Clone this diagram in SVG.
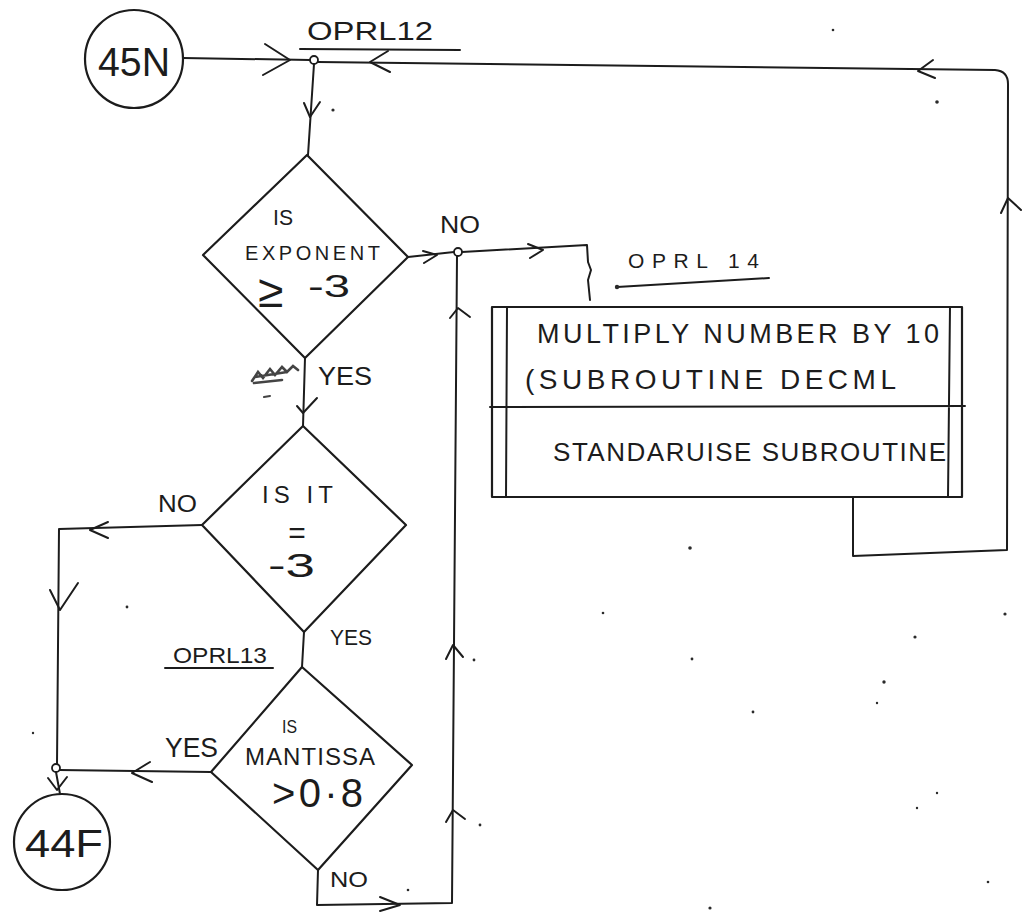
<svg xmlns="http://www.w3.org/2000/svg" width="1026" height="922" viewBox="0 0 1026 922">
<style>
.ln{fill:none;stroke:#1c1c1c;stroke-width:2;stroke-linecap:round;stroke-linejoin:round}
.sh{fill:none;stroke:#1c1c1c;stroke-width:2.2;stroke-linejoin:round}
.jn{fill:#fff;stroke:#1c1c1c;stroke-width:1.8}
.t{font-family:"Liberation Sans","DejaVu Sans",sans-serif;fill:#1c1c1c;font-weight:normal}
.dot{fill:#2a2a2a}
</style>
<rect width="1026" height="922" fill="#fff"/>

<g id="connectors">
  <!-- 45N to junction -->
  <path class="ln" d="M183,58 L310,60"/>
  <path class="ln" d="M265,44 L290,60 L263,75"/>
  <!-- return loop from box to junction -->
  <path class="ln" d="M853,497 L853,556 L1007,550 L1008,84 Q1008,71 995,70 L318,62"/>
  <path class="ln" d="M388,51 L370,62 L390,72"/>
  <path class="ln" d="M933,60 L918,71 L935,78"/>
  <path class="ln" d="M1001,213 L1008,198 L1021,210"/>
  <!-- junction to diamond 1 -->
  <path class="ln" d="M314,64 L308,155"/>
  <path class="ln" d="M304,103 L310,117 L320,102"/>
  <!-- diamond 1 NO to box -->
  <path class="ln" d="M408,257 L454,252"/>
  <path class="ln" d="M423,251 L437,255 L424,263"/>
  <path class="ln" d="M462,252 L587,245 L588,262 L591,270 L588,280 L590,300"/>
  <path class="ln" d="M528,244 L543,250 L530,258"/>
  <!-- diamond 1 YES to diamond 2 -->
  <path class="ln" d="M305,358 L303,426"/>
  <path class="ln" d="M297,406 L303,413 L317,398"/>
  <!-- diamond 2 NO to left -->
  <path class="ln" d="M202,525 L59,529 L57,764"/>
  <path class="ln" d="M108,522 L90,530 L108,538"/>
  <path class="ln" d="M50,590 L60,610 L78,583"/>
  <!-- diamond 2 YES to diamond 3 -->
  <path class="ln" d="M304,632 L302,667"/>
  <!-- diamond 3 YES to junction -->
  <path class="ln" d="M211,772 L59,770"/>
  <path class="ln" d="M150,762 L132,773 L152,782"/>
  <!-- junction to 44F -->
  <path class="ln" d="M56,772 L60,794"/>
  <path class="ln" d="M48,778 L57,790 L67,777"/>
  <!-- diamond 3 NO back up -->
  <path class="ln" d="M318,870 L317,905 L452,903 L457,256"/>
  <path class="ln" d="M380,897 L400,905 L380,911"/>
  <path class="ln" d="M446,659 L453,645 L463,657"/>
  <path class="ln" d="M446,822 L453,810 L465,819"/>
  <path class="ln" d="M450,318 L458,308 L470,317"/>
  <!-- junction points -->
  <circle class="jn" cx="314" cy="60" r="4"/>
  <circle class="jn" cx="458" cy="252" r="4"/>
  <circle class="jn" cx="56" cy="768" r="4"/>
  <!-- connector labels -->
  <text class="t" x="440" y="233" font-size="24" textLength="40" lengthAdjust="spacingAndGlyphs">NO</text>
  <text class="t" x="318" y="385" font-size="25" textLength="54" lengthAdjust="spacingAndGlyphs">YES</text>
  <text class="t" x="158" y="512" font-size="24" textLength="39" lengthAdjust="spacingAndGlyphs">NO</text>
  <text class="t" x="330" y="645" font-size="22" textLength="42" lengthAdjust="spacingAndGlyphs">YES</text>
  <text class="t" x="165" y="757" font-size="28" textLength="53" lengthAdjust="spacingAndGlyphs">YES</text>
  <text class="t" x="330" y="887" font-size="22" textLength="38" lengthAdjust="spacingAndGlyphs">NO</text>
</g>

<g id="label-oprl12">
  <text class="t" x="307" y="40" font-size="26" textLength="126" lengthAdjust="spacingAndGlyphs">OPRL12</text>
  <path class="ln" d="M300,49 L460,50"/>
</g>
<g id="label-oprl14">
  <text class="t" x="628" y="268" font-size="21" textLength="131" lengthAdjust="spacing">OPRL 14</text>
  <path class="ln" d="M617,287 L769,278"/>
  <circle class="dot" cx="617" cy="287" r="2.2"/>
</g>
<g id="label-oprl13">
  <text class="t" x="173" y="663" font-size="22" textLength="94" lengthAdjust="spacingAndGlyphs">OPRL13</text>
  <path class="ln" d="M165,668 L273,668"/>
</g>

<g id="n45N">
  <circle class="sh" cx="134" cy="59" r="49"/>
  <text class="t" x="98" y="76" font-size="40" textLength="72" lengthAdjust="spacingAndGlyphs">45N</text>
</g>

<g id="d-exponent">
  <polygon class="sh" points="307,155 408,257 305,358 203,255"/>
  <text class="t" x="273" y="225" font-size="22" textLength="20" lengthAdjust="spacingAndGlyphs">IS</text>
  <text class="t" x="245" y="260" font-size="20" textLength="135" lengthAdjust="spacing">EXPONENT</text>
  <text class="t" x="258" y="307" font-size="46">≥</text>
  <text class="t" x="308" y="297" font-size="32" textLength="42" lengthAdjust="spacingAndGlyphs">-3</text>
</g>

<g id="d-isit">
  <polygon class="sh" points="303,426 406,525 304,632 202,525"/>
  <text class="t" x="262" y="503" font-size="24" textLength="71" lengthAdjust="spacing">IS IT</text>
  <text class="t" x="297" y="543" font-size="30" text-anchor="middle">=</text>
  <text class="t" x="268" y="577" font-size="34" textLength="47" lengthAdjust="spacingAndGlyphs">-3</text>
</g>

<g id="d-mantissa">
  <polygon class="sh" points="302,667 412,765 318,870 211,772"/>
  <text class="t" x="282" y="733" font-size="18" textLength="15" lengthAdjust="spacingAndGlyphs">IS</text>
  <text class="t" x="245" y="765" font-size="24" textLength="130" lengthAdjust="spacing">MANTISSA</text>
  <text class="t" x="272" y="807" font-size="40" textLength="91" lengthAdjust="spacing">&gt;0·8</text>
</g>

<g id="box-oprl14">
  <rect class="sh" x="492" y="307" width="470" height="190"/>
  <path class="ln" d="M507,307 L506,497 M950,307 L948,497 M490,407 L965,406"/>
  <text class="t" x="537" y="343" font-size="27" textLength="402" lengthAdjust="spacing">MULTIPLY NUMBER BY 10</text>
  <text class="t" x="525" y="389" font-size="28" textLength="371" lengthAdjust="spacing">(SUBROUTINE  DECML</text>
  <text class="t" x="553" y="461" font-size="26" textLength="393" lengthAdjust="spacing">STANDARUISE SUBROUTINE</text>
</g>

<g id="n44F">
  <circle class="sh" cx="62" cy="842" r="48"/>
  <text class="t" x="25" y="857" font-size="38" textLength="78" lengthAdjust="spacingAndGlyphs">44F</text>
</g>

<g id="marks">
  <path d="M252,381 l6,-9 l5,6 l7,-9 l5,6 l7,-8 l5,5 l6,-6 l5,4 M255,377 l32,-5 M254,383 l28,-3" fill="none" stroke="#444" stroke-width="2.6" stroke-linecap="round"/>
  <path d="M264,397 l6,-1" stroke="#444" stroke-width="2" stroke-linecap="round"/>
  <circle class="dot" cx="333" cy="110" r="1.6"/>
  <circle class="dot" cx="833" cy="30" r="1.3"/>
  <circle class="dot" cx="937" cy="102" r="1.8"/>
  <circle class="dot" cx="690" cy="548" r="1.8"/>
  <circle class="dot" cx="127" cy="607" r="1.4"/>
  <circle class="dot" cx="474" cy="660" r="1.4"/>
  <circle class="dot" cx="480" cy="825" r="1.4"/>
  <circle class="dot" cx="408" cy="890" r="1.3"/>
  <circle class="dot" cx="33" cy="733" r="1.2"/>
  <circle class="dot" cx="603" cy="613" r="1.3"/>
  <circle class="dot" cx="1005" cy="614" r="1.6"/>
  <circle class="dot" cx="915" cy="637" r="1.6"/>
  <circle class="dot" cx="692" cy="659" r="1.4"/>
  <circle class="dot" cx="884" cy="682" r="1.7"/>
  <circle class="dot" cx="877" cy="703" r="1.2"/>
  <circle class="dot" cx="753" cy="712" r="1.4"/>
  <circle class="dot" cx="937" cy="793" r="1.2"/>
  <circle class="dot" cx="917" cy="808" r="1.2"/>
  <circle class="dot" cx="988" cy="882" r="1.3"/>
  <circle class="dot" cx="710" cy="908" r="1.6"/>
</g>
</svg>
